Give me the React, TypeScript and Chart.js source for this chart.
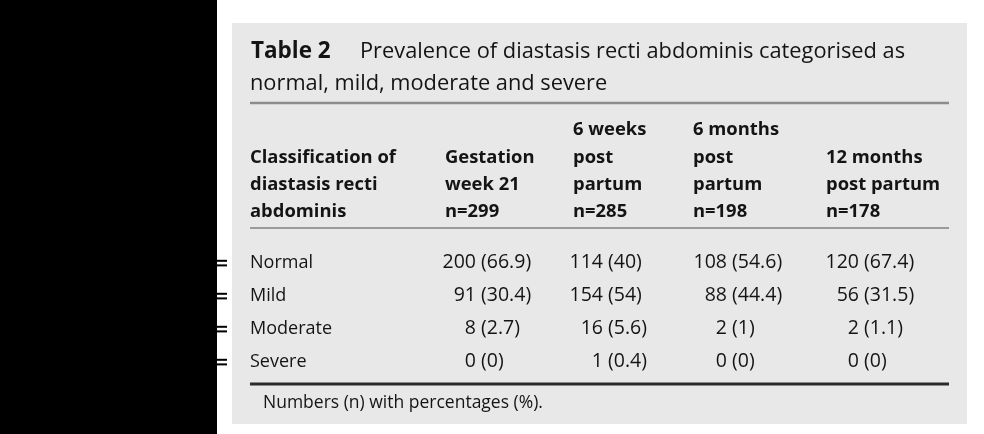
import { useEffect, useRef } from "react";
import { Chart, registerables } from "chart.js";

Chart.register(...registerables);

// ---------------- data ----------------
const tableNumber = "Table 2";
const titleLine1 = "Prevalence of diastasis recti abdominis categorised as";
const titleLine2 = "normal, mild, moderate and severe";
const stubHeader = ["Classification of", "diastasis recti", "abdominis"];
const timepointHeaders = [
  ["Gestation", "week 21"],
  ["6 weeks", "post", "partum"],
  ["6 months", "post", "partum"],
  ["12 months", "post partum"],
];
const sampleSizes = [299, 285, 198, 178];
const categories = ["Normal", "Mild", "Moderate", "Severe"];
const gestationWeek21 = [200, 91, 8, 0];
const gestationWeek21Pct = [66.9, 30.4, 2.7, 0];
const weeks6Post = [114, 154, 16, 1];
const weeks6PostPct = [40, 54, 5.6, 0.4];
const months6Post = [108, 88, 2, 0];
const months6PostPct = [54.6, 44.4, 1, 0];
const months12Post = [120, 56, 2, 0];
const months12PostPct = [67.4, 31.5, 1.1, 0];
const footnote = "Numbers (n) with percentages (%).";

const counts = [gestationWeek21, weeks6Post, months6Post, months12Post];
const percents = [gestationWeek21Pct, weeks6PostPct, months6PostPct, months12PostPct];

// ---------------- layout (page units) ----------------
const W = 984;
const H = 434;
const BLACK_W = 217;
const PANEL = { x0: 232, y0: 23, x1: 967, y1: 424 };
const RULE_X0 = 250;
const RULE_X1 = 949;
const TITLE_RULE_Y = 103;
const HEADER_RULE_Y = 228;
const BOTTOM_RULE_Y = 384;
const TITLE_BASE = [58, 90];
const TABLE_NUM_X = 251;
const TITLE_TEXT_X = 360;
const HEADER_BASE = [135, 163, 190, 217];
const ROW_BASE = [268, 301, 334, 367];
const STUB_X = 250;
const COL_X = [445, 573, 693, 826];
const COUNT_ANCHOR = [476, 603, 727, 859];
const FOOT_X = 263;
const FOOT_BASE = 408;
const EQ_X0 = 217;
const EQ_X1 = 227;

const FONT = "'Open Sans', 'Noto Sans', sans-serif";
const TEXT = "#141414";

const tablePlugin = {
  id: "tableDraw",
  beforeDraw(chart: any) {
    const { ctx, scales } = chart;
    const px = (v: number) => scales.x.getPixelForValue(v);
    const py = (v: number) => scales.y.getPixelForValue(v);
    ctx.save();
    ctx.fillStyle = "#ffffff";
    ctx.fillRect(px(0), py(0), px(W) - px(0), py(H) - py(0));
    ctx.fillStyle = "#000000";
    ctx.fillRect(px(0), py(0), px(BLACK_W) - px(0), py(H) - py(0));
    ctx.fillStyle = "#e8e8e8";
    ctx.fillRect(px(PANEL.x0), py(PANEL.y0), px(PANEL.x1) - px(PANEL.x0), py(PANEL.y1) - py(PANEL.y0));

    // rules
    const rule = (y: number, w: number, c: string) => {
      ctx.fillStyle = c;
      ctx.fillRect(px(RULE_X0), py(y) - w / 2, px(RULE_X1) - px(RULE_X0), w);
    };
    rule(TITLE_RULE_Y, 2.5, "#8c8c8c");
    rule(HEADER_RULE_Y, 2, "#9a9a9a");
    rule(BOTTOM_RULE_Y, 3, "#2a2a2a");

    // "=" marks at rows
    ctx.fillStyle = "#000000";
    ROW_BASE.forEach((b) => {
      const yc = py(b - 5);
      ctx.fillRect(px(EQ_X0), yc - 3.2, px(EQ_X1) - px(EQ_X0), 2);
      ctx.fillRect(px(EQ_X0), yc + 1.4, px(EQ_X1) - px(EQ_X0), 2);
    });

    ctx.fillStyle = TEXT;
    ctx.textBaseline = "alphabetic";
    ctx.textAlign = "left";
    // title
    ctx.font = `bold 22.5px ${FONT}`;
    ctx.fillText(tableNumber, px(TABLE_NUM_X), py(TITLE_BASE[0]));
    ctx.font = `21.8px ${FONT}`;
    ctx.fillText(titleLine1, px(TITLE_TEXT_X), py(TITLE_BASE[0]));
    ctx.fillText(titleLine2, px(STUB_X), py(TITLE_BASE[1]));

    // headers (bottom-aligned)
    ctx.font = `bold 18.4px ${FONT}`;
    const drawCol = (lines: string[], x: number) => {
      const off = HEADER_BASE.length - lines.length;
      lines.forEach((l, i) => ctx.fillText(l, px(x), py(HEADER_BASE[off + i])));
    };
    drawCol(stubHeader, STUB_X);
    timepointHeaders.forEach((h, j) => drawCol([...h, `n=${sampleSizes[j]}`], COL_X[j]));

    // row labels
    ctx.font = `18px ${FONT}`;
    categories.forEach((c, i) => ctx.fillText(c, px(STUB_X), py(ROW_BASE[i])));

    // footnote
    ctx.font = `17.5px ${FONT}`;
    ctx.fillText(footnote, px(FOOT_X), py(FOOT_BASE));
    ctx.restore();
  },
  afterDatasetsDraw(chart: any) {
    const { ctx } = chart;
    ctx.save();
    ctx.fillStyle = TEXT;
    ctx.font = `19.5px ${FONT}`;
    ctx.textBaseline = "alphabetic";
    const sp = ctx.measureText(" ").width;
    chart.data.datasets.forEach((ds: any, j: number) => {
      const meta = chart.getDatasetMeta(j);
      meta.data.forEach((el: any, i: number) => {
        ctx.textAlign = "right";
        ctx.fillText(String(counts[j][i]), el.x, el.y);
        ctx.textAlign = "left";
        ctx.fillText(`(${percents[j][i]})`, el.x + sp, el.y);
      });
    });
    ctx.restore();
  },
};

export default function App() {
  const ref = useRef<HTMLCanvasElement>(null);
  useEffect(() => {
    document.body.style.margin = "0";
    const datasets = counts.map((col, j) => ({
      label: timepointHeaders[j].join(" "),
      data: col.map((_, i) => ({ x: COUNT_ANCHOR[j], y: ROW_BASE[i] })),
      pointRadius: 0,
      pointHoverRadius: 0,
      showLine: false,
    }));
    const chart = new Chart(ref.current as HTMLCanvasElement, {
      type: "scatter",
      data: { datasets },
      options: {
        responsive: false,
        animation: false,
        devicePixelRatio: 1,
        events: [],
        layout: { padding: 0 },
        plugins: { legend: { display: false }, tooltip: { enabled: false } },
        scales: {
          x: { type: "linear", min: 0, max: W, display: false },
          y: { type: "linear", min: 0, max: H, reverse: true, display: false },
        },
      },
      plugins: [tablePlugin],
    } as any);
    return () => chart.destroy();
  }, []);
  return (
    <div style={{ width: W, height: H }}>
      <canvas ref={ref} width={W} height={H} style={{ display: "block", width: W, height: H }} />
    </div>
  );
}
